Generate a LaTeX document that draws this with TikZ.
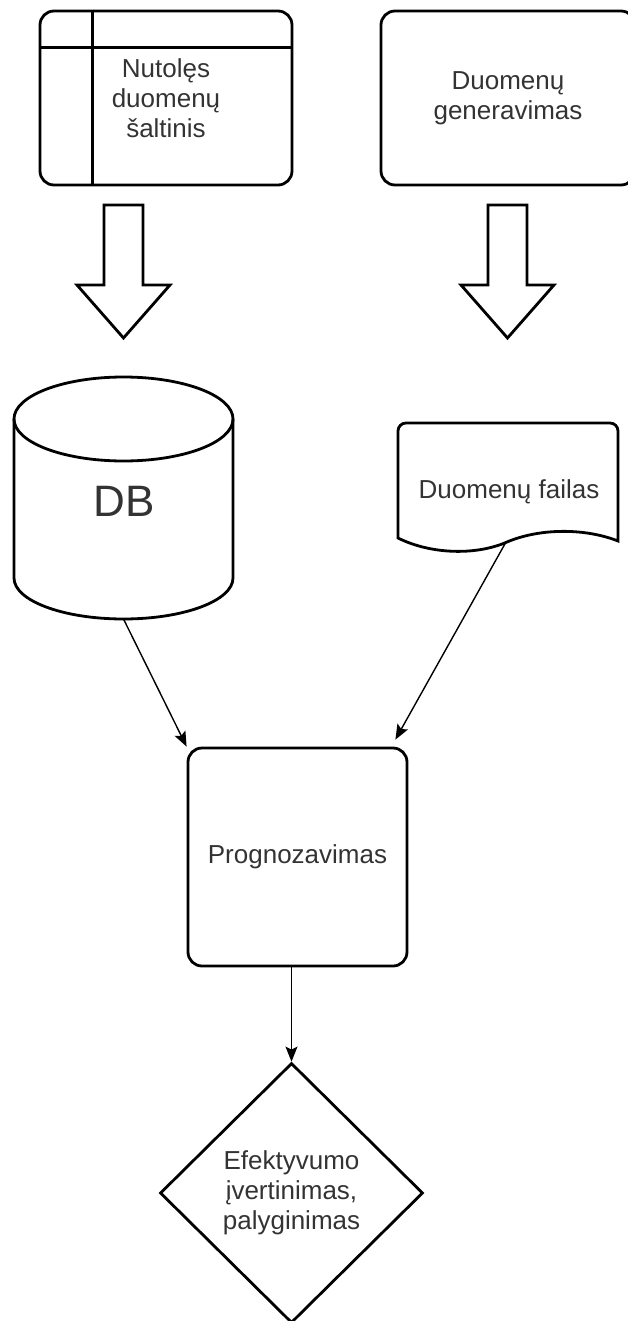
\documentclass[tikz,border=0pt]{standalone}
\usepackage{fontspec}
\setmainfont{Liberation Sans}
\usetikzlibrary{shapes.geometric,arrows.meta}

\tikzset{
  shape line/.style={draw=black,line width=2.8pt},
  label text/.style={align=center,text=black!80,font=\fontsize{26}{30}\selectfont,inner sep=0pt},
  procbox/.style={shape line,rectangle,rounded corners=14pt,label text},
  conn/.style={line width=1.4pt,-{Stealth[length=15pt,width=12pt,inset=3pt]}},
  hollow/.style={shape line,line join=miter,fill=white},
  downarrow/.pic={
    \draw[hollow] (-19.5,0) -- (19.5,0) -- (19.5,80) -- (46.5,80) -- (0,133)
      -- (-46.5,80) -- (-19.5,80) -- cycle;
  },
}

\begin{document}
\begin{tikzpicture}[x=1pt,y=-1pt]
\useasboundingbox (0,0) rectangle (628,1321);
\clip (0,0) rectangle (628,1321);

% remote data source (internal storage symbol)
\node[procbox, minimum width=252pt, minimum height=174pt] (src) at (166,98)
  {Nutolęs\\duomenų\\šaltinis};
\draw[shape line] ([xshift=54pt]src.north west) -- ([xshift=54pt]src.south west);
\draw[shape line] ([yshift=-38pt]src.north west) -- ([yshift=-38pt]src.north east);

% data generation
\node[procbox, minimum width=254pt, minimum height=174pt] (gen) at (508,98)
  {Duomenų\\generavimas};

% hollow block arrows
\pic at (123.5,205) {downarrow};
\pic at (507.5,205) {downarrow};

% database cylinder
\draw[shape line] (123.5,419) ellipse [x radius=109.5pt, y radius=42pt];
\draw[shape line] (14,419) -- (14,578)
  arc[start angle=180, end angle=360, x radius=109.5pt, y radius=41pt] -- (233,419);
\node[text=black!80, font=\fontsize{44}{50}\selectfont, inner sep=0pt] (db) at (124,501) {DB};
\coordinate (dbbot) at (123.5,619);

% data file (document symbol)
\draw[shape line] (398,538) -- (398,431)
  arc[start angle=180, end angle=90, radius=8pt] -- (610,423)
  arc[start angle=90, end angle=0, radius=8pt] -- (618,541)
  .. controls (585,528) and (540,528) .. (507,542)
  .. controls (475,556) and (430,554) .. (398,538) -- cycle;
\node[label text] (file) at (509,492) {Duomenų failas};
\coordinate (filebot) at (506,542);

% forecasting
\node[procbox, minimum width=219pt, minimum height=218pt] (prog) at (297.5,857)
  {Prognozavimas};

% evaluation
\node[shape line, diamond, label text, minimum width=263pt, minimum height=260pt]
  (eval) at (291.5,1193) {Efektyvumo\\įvertinimas,\\palyginimas};

% connectors
\draw[conn] (dbbot) -- (prog.north west);
\draw[conn] (filebot) -- ([xshift=-13pt,yshift=7pt]prog.north east);
\draw[conn] (prog.south -| eval.north) -- (eval.north);
\end{tikzpicture}
\end{document}
